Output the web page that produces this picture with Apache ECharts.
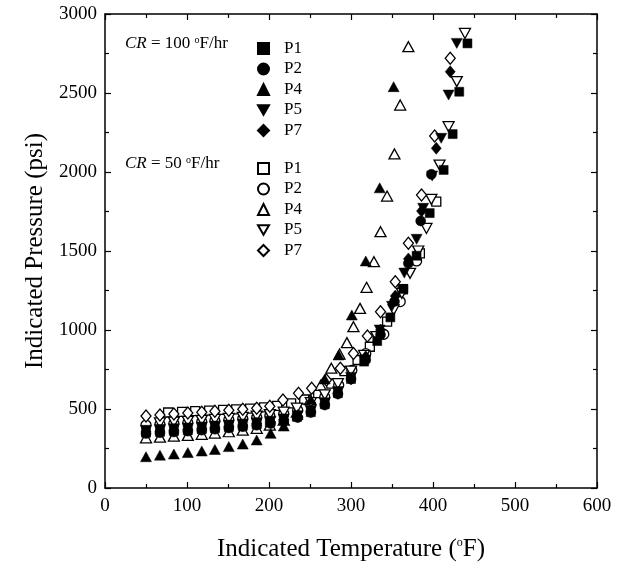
<!DOCTYPE html>
<html><head><meta charset="utf-8">
<script src="https://cdn.jsdelivr.net/npm/echarts@6/dist/echarts.min.js"></script>
<style>html,body{margin:0;padding:0;background:#fff}#c{width:633px;height:569px}</style>
</head><body><div id="c"></div>
<script>
// ---- data (Indicated Temperature °F, Indicated Pressure psi) ----
const xTicks = [0, 100, 200, 300, 400, 500, 600];
const yTicks = [0, 500, 1000, 1500, 2000, 2500, 3000];

// CR = 100 °F/hr (filled symbols)
const p1Fast = [[50,350],[67,355],[84,360],[101,365],[118,372],[134,378],[151,385],[168,393],[185,402],[201,415],[218,430],[234,450],[251,480],[268,530],[284,600],[300,690],[316,800],[332,930],[348,1080],[364,1260],[380,1470],[396,1740],[413,2013],[424,2240],[432,2508],[442,2814]];
const p2Fast = [[50,345],[67,350],[84,355],[101,360],[118,366],[134,372],[151,380],[168,388],[185,397],[202,408],[218,424],[235,446],[251,478],[268,525],[284,595],[300,690],[318,810],[336,970],[353,1180],[370,1422],[385,1690],[398,1985]];
const p4Fast = [[50,198],[67,208],[84,215],[101,224],[118,234],[134,244],[151,262],[168,278],[185,304],[202,346],[218,392],[235,465],[251,560],[268,690],[285,842],[301,1095],[318,1437],[335,1900],[352,2540]];
const p5Fast = [[50,365],[67,370],[84,375],[101,380],[118,386],[134,392],[151,398],[168,405],[185,413],[202,423],[218,437],[235,458],[251,490],[268,540],[284,610],[300,700],[316,810],[335,1000],[350,1150],[365,1360],[380,1574],[388,1770],[399,1975],[410,2213],[419,2487],[429,2814]];
const p7Fast = [[50,355],[67,360],[84,365],[101,371],[118,377],[134,383],[151,390],[168,398],[185,407],[202,418],[218,432],[235,452],[251,485],[268,532],[284,600],[300,690],[318,830],[336,1000],[354,1215],[370,1450],[386,1753],[404,2150],[421,2635]];

// CR = 50 °F/hr (open symbols)
const p1Slow = [[77,478],[94,482],[110,486],[127,490],[144,494],[160,498],[177,503],[194,510],[210,520],[227,536],[243,560],[260,600],[276,660],[292,740],[308,810],[323,894],[344,1053],[363,1258],[384,1485],[404,1812]];
const p2Slow = [[50,398],[67,402],[84,407],[101,412],[118,418],[134,424],[151,431],[168,438],[185,446],[201,456],[218,470],[235,492],[251,525],[268,575],[285,650],[301,745],[318,850],[340,973],[360,1180],[380,1437]];
const p4Slow = [[50,318],[67,322],[84,328],[101,333],[118,340],[134,348],[151,356],[168,366],[185,378],[201,398],[218,430],[234,480],[250,560],[263,650],[276,758],[286,848],[295,920],[303,1021],[311,1137],[319,1270],[328,1432],[336,1622],[344,1848],[353,2114],[360,2424],[370,2793]];
const p5Slow = [[67,412],[84,417],[101,422],[118,428],[134,434],[151,440],[168,447],[185,455],[201,465],[218,480],[234,505],[251,540],[268,590],[284,660],[300,740],[316,840],[331,958],[352,1127],[362,1232],[372,1359],[382,1500],[392,1643],[398,1827],[408,2044],[419,2287],[429,2572],[439,2877]];
const p7Slow = [[50,455],[67,462],[84,468],[101,474],[118,480],[134,486],[151,492],[168,498],[185,505],[201,517],[217,557],[236,599],[252,631],[270,684],[287,758],[303,852],[320,962],[336,1116],[354,1306],[370,1549],[386,1854],[402,2228],[421,2720]];

const fastNames = ['P1|100','P2|100','P4|100','P5|100','P7|100'];
const slowNames = ['P1|50','P2|50','P4|50','P5|50','P7|50'];

// ---- styling ----
const FONT = 'Liberation Serif';
const DOWN = 'path://M0,0 L10,0 L5,8.66 Z';
const shapes = ['rect', 'circle', 'triangle', DOWN, 'diamond'];
const sizes = [[9,9], 10, [11,10], [11,10], [10,12]];

function mk(name, data, i, filled) {
  return {
    name: name, type: 'scatter', data: data,
    symbol: shapes[i], symbolSize: sizes[i],
    itemStyle: filled ? {color: '#000', borderColor: '#000', borderWidth: 0.5, opacity: 1}
                      : {color: '#fff', borderColor: '#000', borderWidth: 1.3, opacity: 1},
    emphasis: {disabled: true}, animation: false, z: filled ? 3 : 2
  };
}
const fastData = [p1Fast, p2Fast, p4Fast, p5Fast, p7Fast];
const slowData = [p1Slow, p2Slow, p4Slow, p5Slow, p7Slow];
const series = [];
slowData.forEach((d, i) => series.push(mk(slowNames[i], d, i, false)));
fastData.forEach((d, i) => series.push(mk(fastNames[i], d, i, true)));

const axisCommon = {
  type: 'value', splitLine: {show: false},
  axisLine: {show: true, onZero: false, lineStyle: {color: '#000', width: 1.5}},
  axisTick: {show: true, inside: true, length: 6, lineStyle: {color: '#000', width: 1.2}},
  minorTick: {show: true, splitNumber: 2, length: 4, lineStyle: {color: '#000', width: 1.2}},
  axisLabel: {color: '#000', fontFamily: FONT, fontSize: 19, formatter: v => String(v)}
};
const xA = Object.assign({}, axisCommon, {min: xTicks[0], max: xTicks[xTicks.length-1], interval: xTicks[1]-xTicks[0]});
const yA = Object.assign({}, axisCommon, {min: yTicks[0], max: yTicks[yTicks.length-1], interval: yTicks[1]-yTicks[0]});

const legendCommon = {
  orient: 'vertical', left: 252, itemWidth: 11, itemHeight: 11, itemGap: 3.5,
  selectedMode: false,
  formatter: n => n.split('|')[0],
  textStyle: {fontFamily: FONT, fontSize: 17, color: '#000', padding: [0,0,0,10]}
};

const supRich = {s: {fontFamily: FONT, fontSize: 12, verticalAlign: 'top', lineHeight: 18}};

const option = {
  animation: false,
  backgroundColor: '#fff',
  grid: {left: 105, right: 36, top: 14, bottom: 81, containLabel: false},
  xAxis: [
    Object.assign({}, xA, {position: 'bottom',
      name: 'Indicated Temperature ({s|o}F)', nameLocation: 'middle', nameGap: 49,
      nameTextStyle: {color: '#000', fontFamily: FONT, fontSize: 25, rich: supRich},
      axisLabel: Object.assign({}, axisCommon.axisLabel, {margin: 9})}),
    Object.assign({}, xA, {position: 'top', axisLabel: {show: false}})
  ],
  yAxis: [
    Object.assign({}, yA, {position: 'left',
      name: 'Indicated Pressure (psi)', nameLocation: 'middle', nameGap: 49,
      nameTextStyle: {color: '#000', fontFamily: FONT, fontSize: 25},
      axisLabel: Object.assign({}, axisCommon.axisLabel, {margin: 8})}),
    Object.assign({}, yA, {position: 'right', axisLabel: {show: false}})
  ],
  legend: [
    Object.assign({}, legendCommon, {top: 35, data: fastNames}),
    Object.assign({}, legendCommon, {top: 155, data: slowNames})
  ],
  graphic: [
    {type: 'text', left: 125, top: 35, style: {
      text: '{i|CR} = 100 {s|o}F/hr', fontFamily: FONT, fontSize: 17, fill: '#000',
      rich: {i: {fontStyle: 'italic', fontFamily: FONT, fontSize: 17}, s: {fontFamily: FONT, fontSize: 10, verticalAlign: 'top', lineHeight: 14}}}},
    {type: 'text', left: 125, top: 155, style: {
      text: '{i|CR} = 50 {s|o}F/hr', fontFamily: FONT, fontSize: 17, fill: '#000',
      rich: {i: {fontStyle: 'italic', fontFamily: FONT, fontSize: 17}, s: {fontFamily: FONT, fontSize: 10, verticalAlign: 'top', lineHeight: 14}}}}
  ],
  series: series
};
const chart = echarts.init(document.getElementById('c'), null, {renderer: 'canvas'});
chart.setOption(option);
</script>
</body></html>
